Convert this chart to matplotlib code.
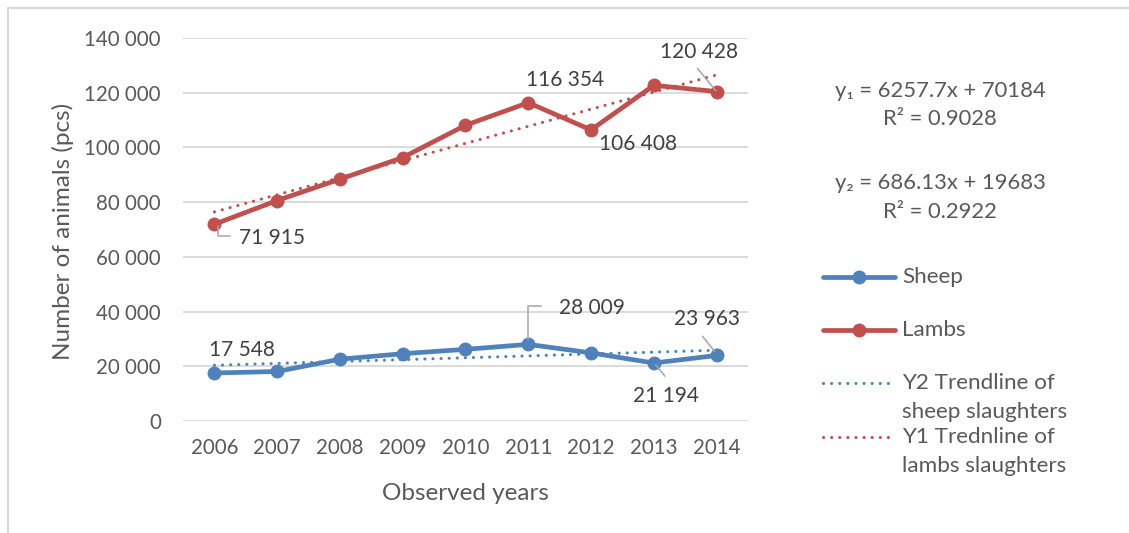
import matplotlib
matplotlib.use("Agg")
import matplotlib.pyplot as plt
import matplotlib.transforms as mtransforms
from matplotlib.lines import Line2D
import numpy as np

# Slaughtered sheep and lambs per year
years = [2006, 2007, 2008, 2009, 2010, 2011, 2012, 2013, 2014]
sheep = [17548, 18100, 22600, 24600, 26200, 28009, 24900, 21194, 23963]
lambs = [71915, 80600, 88400, 96300, 108100, 116354, 106408, 122700, 120428]

# Linear trendlines (x = 1..9)
lambs_trend = (6257.7, 70184)
sheep_trend = (686.13, 19683)
lambs_r2 = 0.9028
sheep_r2 = 0.2922

y_ticks = [0, 20000, 40000, 60000, 80000, 100000, 120000, 140000]

BLUE = "#4F81BD"
RED = "#C0504D"
TEXT = "#595959"
LABEL = "#404040"
GRID = "#D9D9D9"
LEADER = "#A6A6A6"

plt.rcParams['font.family'] = ['Lato', 'DejaVu Sans']
plt.rcParams['font.size'] = 15

W, H = 1129, 533
fig = plt.figure(figsize=(W / 100, H / 100), dpi=100)
ax = fig.add_axes([183 / W, 1 - 421 / H, 565 / W, 383 / H])


def fmt(v):
    return f"{v:,}".replace(",", " ")


line_kw = dict(lw=3.4, marker="o", markersize=9, solid_capstyle="round",
               solid_joinstyle="round")
dot_kw = dict(lw=2.2, linestyle=(0, (0.05, 2.6)), dash_capstyle="round")

xs = np.arange(1, len(years) + 1)
ax.plot(years, sheep_trend[0] * xs + sheep_trend[1], color=BLUE, zorder=2, **dot_kw)
ax.plot(years, lambs_trend[0] * xs + lambs_trend[1], color=RED, zorder=2, **dot_kw)
ax.plot(years, sheep, color=BLUE, zorder=3, **line_kw)
ax.plot(years, lambs, color=RED, zorder=3, **line_kw)

ax.set_xlim(2005.5, 2014.5)
ax.set_ylim(0, 140000)
ax.set_xticks(years)
ax.set_yticks(y_ticks)
ax.set_yticklabels([fmt(v) for v in y_ticks])
ax.grid(axis="y", color=GRID, lw=1.3)
ax.set_axisbelow(True)
for s in ax.spines.values():
    s.set_visible(False)
ax.tick_params(axis="both", length=0, colors=TEXT, labelsize=14.8)
ax.tick_params(axis="y", pad=16)
ax.tick_params(axis="x", pad=12)

ax.set_xlabel("Observed years", color=TEXT, fontsize=17.5, labelpad=18)
fig.text(63 / W, 1 - 231 / H, "Number of animals (pcs)", rotation=90,
         ha="center", va="center", color=TEXT, fontsize=17.5)

# data labels: (series, year index, dx, dy) offsets in pixels, dy downwards
labels = [
    (lambs, 0, 58, 14), (lambs, 5, 37, -23), (lambs, 6, 47, 14),
    (lambs, 8, -18, -40),
    (sheep, 0, 28, -23), (sheep, 5, 64, -36), (sheep, 7, 12, 33),
    (sheep, 8, -10, -36),
]
for series, i, dx, dy in labels:
    ax.annotate(fmt(series[i]), xy=(years[i], series[i]), xytext=(dx, -dy),
                textcoords="offset pixels", ha="center", va="center",
                color=LABEL, fontsize=15, zorder=4)

# leader lines, vertices in pixels relative to the marker
leaders = [
    (lambs, 0, [(4, 2), (4, 12), (16, 12)]),
    (lambs, 8, [(-19, -23), (-1, -1)]),
    (sheep, 5, [(0, -5), (0, -38), (13, -38)]),
    (sheep, 7, [(2, 2), (11, 13)]),
    (sheep, 8, [(-14, -19), (-2, -4)]),
]
for series, i, pts in leaders:
    bx, by = ax.transData.transform((years[i], series[i]))
    fig.add_artist(Line2D([bx + p[0] for p in pts], [by - p[1] for p in pts],
                          transform=mtransforms.IdentityTransform(),
                          color=LEADER, lw=1.1, zorder=2.5))

# trendline equations
eq_x = 940 / W
eq_size = 15.8
fig.text(eq_x, 1 - 91 / H, f"y\u2081 = {lambs_trend[0]}x + {lambs_trend[1]}",
         ha="center", va="center", color=TEXT, fontsize=eq_size)
fig.text(eq_x, 1 - 119 / H, f"R\u00b2 = {lambs_r2}", ha="center", va="center",
         color=TEXT, fontsize=eq_size)
fig.text(eq_x, 1 - 183 / H, f"y\u2082 = {sheep_trend[0]}x + {sheep_trend[1]}",
         ha="center", va="center", color=TEXT, fontsize=eq_size)
fig.text(eq_x, 1 - 212 / H, f"R\u00b2 = {sheep_r2}", ha="center", va="center",
         color=TEXT, fontsize=eq_size)

# legend
leg_x0, leg_x1, leg_tx = 823 / W, 895 / W, 902 / W
entries = [
    (277, BLUE, True, ["Sheep"]),
    (330, RED, True, ["Lambs"]),
    (383, BLUE, False, ["Y2 Trendline of", "sheep slaughters"]),
    (437, RED, False, ["Y1 Trednline of", "lambs slaughters"]),
]
for ypix, color, solid, text in entries:
    y = 1 - ypix / H
    if solid:
        fig.add_artist(Line2D([leg_x0, leg_x1], [y, y], color=color, lw=3.4,
                              solid_capstyle="round",
                              transform=fig.transFigure))
        fig.add_artist(Line2D([(leg_x0 + leg_x1) / 2], [y], color=color,
                              marker="o", markersize=9,
                              transform=fig.transFigure))
    else:
        fig.add_artist(Line2D([leg_x0, leg_x1], [y, y], color=color,
                              transform=fig.transFigure, **dot_kw))
    for k, t in enumerate(text):
        fig.text(leg_tx, 1 - (ypix + 29 * k) / H, t, ha="left", va="center",
                 color=TEXT, fontsize=16.2)

# chart area border
fig.add_artist(Line2D([8 / W, 1], [1 - 8 / H, 1 - 8 / H], color=GRID, lw=1.5,
                      transform=fig.transFigure))
fig.add_artist(Line2D([8 / W, 8 / W], [0, 1 - 8 / H], color=GRID, lw=1.5,
                      transform=fig.transFigure))

fig.savefig("out.png", dpi=100)
